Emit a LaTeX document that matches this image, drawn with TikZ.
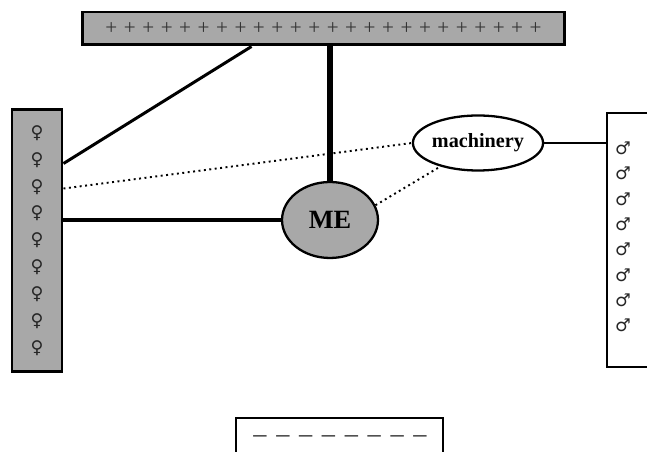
\documentclass[tikz,border=0pt]{standalone}
\usepackage{fontspec}
\usetikzlibrary{shapes.geometric}
\setmainfont{Liberation Serif}
\newfontfamily\symfont{DejaVu Sans}
\definecolor{bargray}{RGB}{168,168,168}
\begin{document}
\begin{tikzpicture}[x=0.02cm, y=-0.02cm]
\tikzstyle{every node}=[inner sep=0pt]
\tikzstyle{bar}=[draw,rectangle,line width=1.7pt,fill=bargray]
\tikzstyle{oval}=[draw,ellipse,line width=1.3pt]
\useasboundingbox (0,0) rectangle (647,452);
\node[bar,minimum width=9.66cm,minimum height=0.66cm,text=black!80](pos) at (323.5,28.5)
  {\fontsize{12}{14}\selectfont\spaceskip=3.73pt + + + + + + + + + + + + + + + + + + + + + + + +};
\node[bar,minimum width=1cm,minimum height=5.26cm,align=center,text=black!85,
  font=\symfont\fontsize{10}{15.3}\selectfont](fem) at (37,240.5)
  {♀\\♀\\♀\\♀\\♀\\♀\\♀\\♀\\♀};
\node[draw,rectangle,line width=1.2pt,fill=white,minimum width=0.96cm,minimum height=5.08cm](mal) at (631,240) {};
\node[align=center,text=black!85,font=\symfont\fontsize{10}{14.4}\selectfont](malsym) at (623,237)
  {♂\\♂\\♂\\♂\\♂\\♂\\♂\\♂};
\node[draw,rectangle,line width=1.5pt,fill=white,minimum width=4.14cm,minimum height=0.88cm](neg) at (339.5,440) {};
\node[text=black!85](negsym) at (340,439)
  {\fontsize{15}{18}\selectfont\spaceskip=5.5pt – – – – – – – –};
\node[oval,fill=bargray,minimum width=1.92cm,minimum height=1.52cm](me) at (330,220)
  {\fontsize{15}{18}\selectfont\bfseries ME};
\node[oval,fill=white,minimum width=2.4cm,minimum height=1.1cm](mach) at (478,143)
  {\fontsize{11.5}{14}\selectfont\bfseries machinery};
% connectors
\draw[line width=3.4pt] (pos.south -| me.north) -- (me.north);
\draw[line width=1.7pt] ([xshift=3.42cm]pos.south west) -- ([yshift=-1.12cm]fem.north east);
\draw[line width=2.3pt] (me.west -| fem.east) -- (me.west);
\draw[line width=1.1pt,dotted] ([yshift=-1.62cm]fem.north east) -- (mach.west);
\draw[line width=1.1pt,dotted] (me.18) -- (mach.212);
\draw[line width=1pt] (mach.east) -- (mach.east -| mal.west);
\end{tikzpicture}
\end{document}
